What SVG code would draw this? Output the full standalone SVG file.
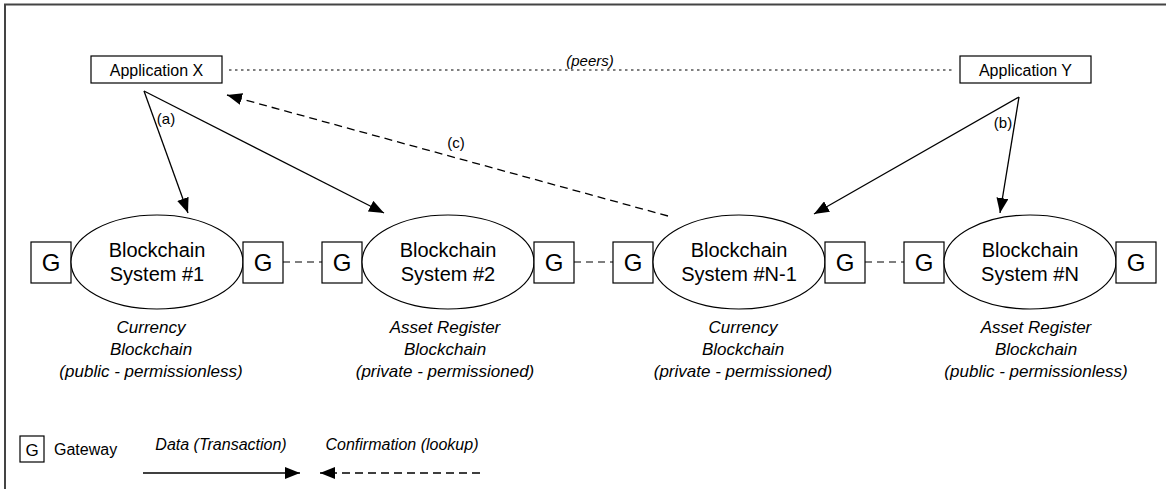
<svg xmlns="http://www.w3.org/2000/svg" width="1166" height="489" viewBox="0 0 1166 489">
<style>
text{font-family:"Liberation Sans",Arial,sans-serif;fill:#000}
.box{fill:#fff;stroke:#000;stroke-width:1.2}
.ell{fill:#fff;stroke:#000;stroke-width:1.2}
.app{font-size:16px;text-anchor:middle}
.bc{font-size:20px;text-anchor:middle}
.g{font-size:24px;text-anchor:middle}
.lab{font-size:17px;font-style:italic;text-anchor:middle}
.sm{font-size:15px;text-anchor:middle}
.it{font-size:16px;font-style:italic;text-anchor:middle}
.solid{stroke:#000;stroke-width:1.3;fill:none}
.dash{stroke:#000;stroke-width:1.3;fill:none;stroke-dasharray:8 5}
.gdash{stroke:#000;stroke-width:1.2;fill:none;stroke-dasharray:7 5}
.dot{stroke:#000;stroke-width:1.2;fill:none;stroke-dasharray:2.5 3.5}
</style>
<defs>
<marker id="ah" markerUnits="userSpaceOnUse" markerWidth="16" markerHeight="12" refX="15" refY="6" orient="auto">
<path d="M0,0 L15,6 L0,12 z" fill="#000"/>
</marker>
</defs>
<rect width="1166" height="489" fill="#fff"/>
<path d="M5,489 V4.5 H1166" fill="none" stroke="#444" stroke-width="2"/>

<g id="connectors">
<line class="dot" x1="229" y1="70" x2="953" y2="70"/>
<line class="solid" x1="144" y1="91" x2="188" y2="213" marker-end="url(#ah)"/>
<line class="solid" x1="144" y1="91" x2="384" y2="213" marker-end="url(#ah)"/>
<line class="solid" x1="1019" y1="97" x2="814" y2="214" marker-end="url(#ah)"/>
<line class="solid" x1="1019" y1="97" x2="1000" y2="213" marker-end="url(#ah)"/>
<line class="dash" x1="668" y1="216" x2="227" y2="95" marker-end="url(#ah)"/>
<line class="gdash" x1="283" y1="262" x2="322" y2="262"/>
<line class="gdash" x1="574" y1="262" x2="613" y2="262"/>
<line class="gdash" x1="865" y1="262" x2="904" y2="262"/>
</g>
<text class="sm" x="166" y="124">(a)</text>
<text class="sm" x="1003" y="128">(b)</text>
<text class="sm" x="456" y="148">(c)</text>
<text class="it" x="590" y="66" style="font-size:15px">(peers)</text>

<g id="appX">
<rect class="box" x="91" y="56" width="131" height="27"/>
<text class="app" x="156.5" y="75.5">Application X</text>
</g>
<g id="appY">
<rect class="box" x="960" y="56" width="131" height="27"/>
<text class="app" x="1025.5" y="75.5">Application Y</text>
</g>

<g id="bc1">
<rect class="box" x="31" y="242" width="40" height="41"/>
<text class="g" x="51" y="271">G</text>
<ellipse class="ell" cx="157" cy="262" rx="86" ry="47"/>
<text class="bc" x="157" y="257">Blockchain</text>
<text class="bc" x="157" y="281">System #1</text>
<rect class="box" x="243" y="242" width="40" height="41"/>
<text class="g" x="263" y="271">G</text>
<text class="lab" x="151" y="333">Currency</text>
<text class="lab" x="151" y="355">Blockchain</text>
<text class="lab" x="151" y="377">(public - permissionless)</text>
</g>

<g id="bc2">
<rect class="box" x="322" y="242" width="40" height="41"/>
<text class="g" x="342" y="271">G</text>
<ellipse class="ell" cx="448" cy="262" rx="86" ry="47"/>
<text class="bc" x="448" y="257">Blockchain</text>
<text class="bc" x="448" y="281">System #2</text>
<rect class="box" x="534" y="242" width="40" height="41"/>
<text class="g" x="554" y="271">G</text>
<text class="lab" x="445" y="333">Asset Register</text>
<text class="lab" x="445" y="355">Blockchain</text>
<text class="lab" x="445" y="377">(private - permissioned)</text>
</g>

<g id="bc3">
<rect class="box" x="613" y="242" width="40" height="41"/>
<text class="g" x="633" y="271">G</text>
<ellipse class="ell" cx="739" cy="262" rx="86" ry="47"/>
<text class="bc" x="739" y="257">Blockchain</text>
<text class="bc" x="739" y="281">System #N-1</text>
<rect class="box" x="825" y="242" width="40" height="41"/>
<text class="g" x="845" y="271">G</text>
<text class="lab" x="743" y="333">Currency</text>
<text class="lab" x="743" y="355">Blockchain</text>
<text class="lab" x="743" y="377">(private - permissioned)</text>
</g>

<g id="bcN">
<rect class="box" x="904" y="242" width="40" height="41"/>
<text class="g" x="924" y="271">G</text>
<ellipse class="ell" cx="1030" cy="262" rx="86" ry="47"/>
<text class="bc" x="1030" y="257">Blockchain</text>
<text class="bc" x="1030" y="281">System #N</text>
<rect class="box" x="1116" y="242" width="40" height="41"/>
<text class="g" x="1136" y="271">G</text>
<text class="lab" x="1036" y="333">Asset Register</text>
<text class="lab" x="1036" y="355">Blockchain</text>
<text class="lab" x="1036" y="377">(public - permissionless)</text>
</g>

<g id="legend">
<rect class="box" x="20" y="436" width="24" height="26"/>
<text x="32" y="455.5" style="font-size:17px;text-anchor:middle">G</text>
<text x="54" y="455" style="font-size:16px">Gateway</text>
<text class="it" x="221" y="450">Data (Transaction)</text>
<line class="solid" x1="143" y1="473" x2="300" y2="473" marker-end="url(#ah)"/>
<text class="it" x="402" y="450">Confirmation (lookup)</text>
<line class="dash" x1="480" y1="473" x2="320" y2="473" marker-end="url(#ah)"/>
</g>
</svg>
